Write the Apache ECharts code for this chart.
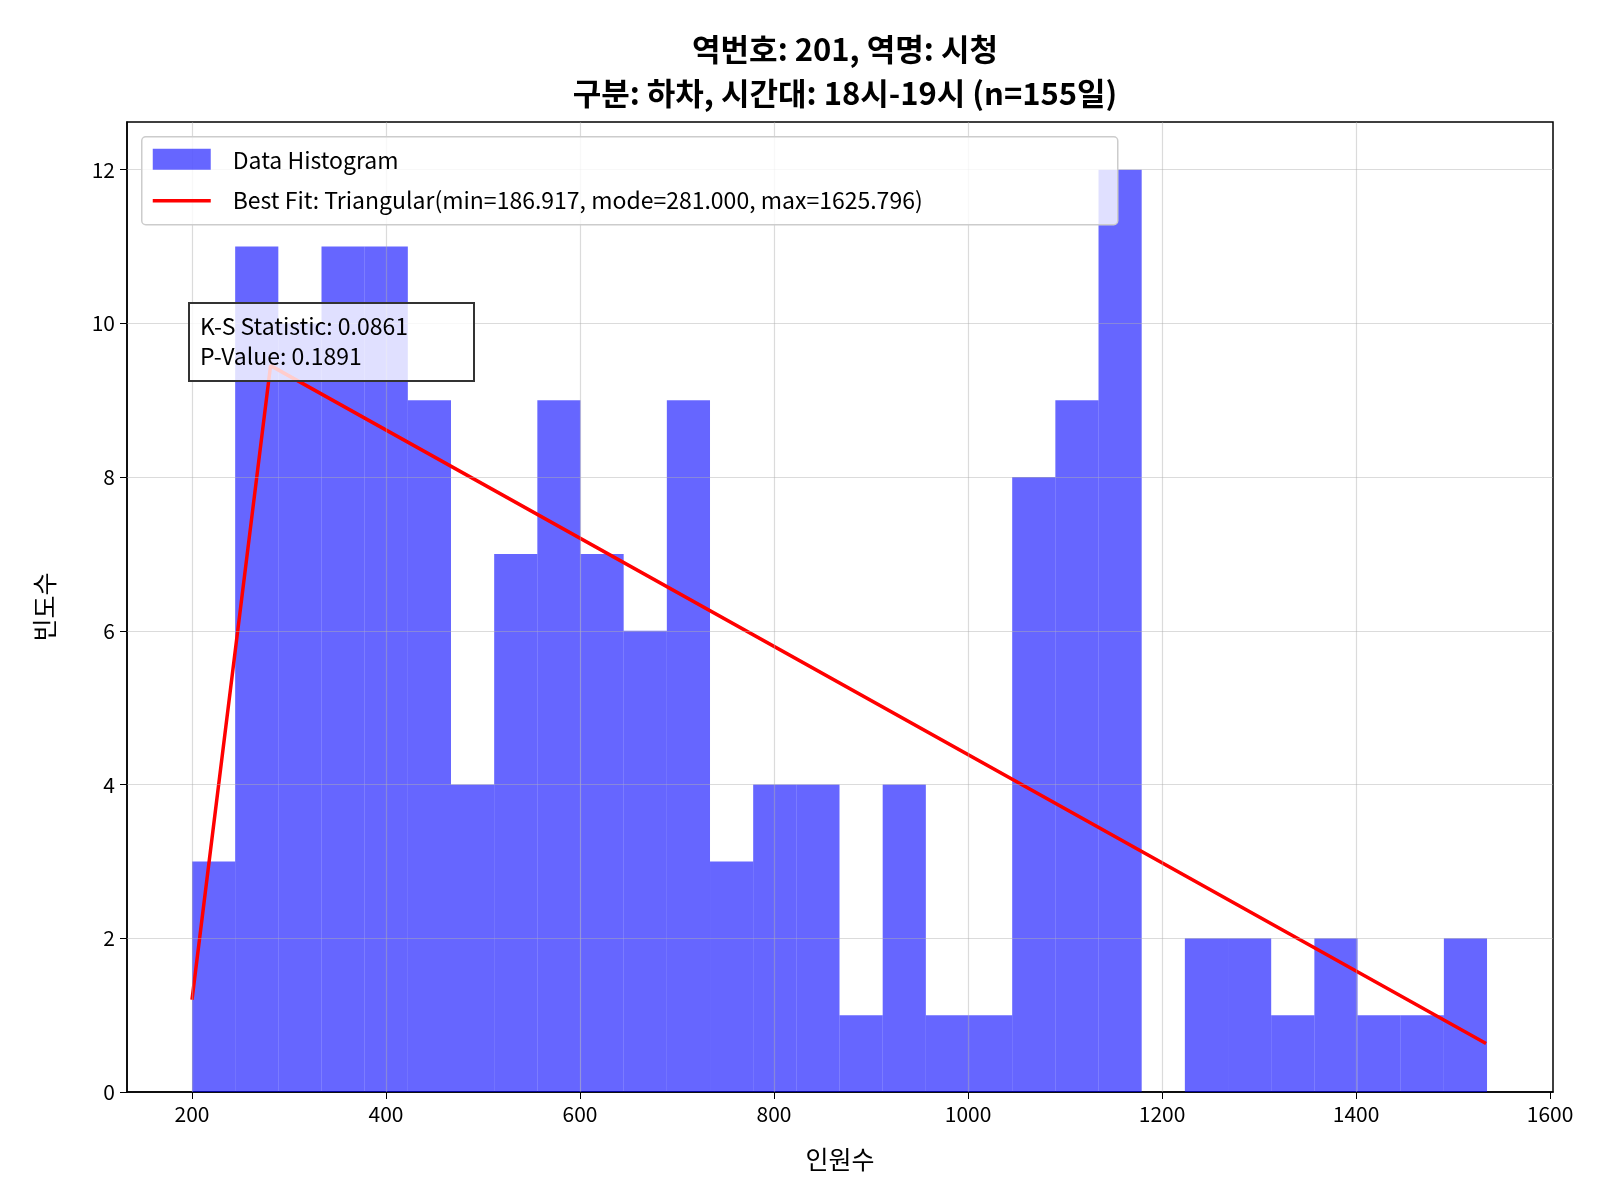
<!DOCTYPE html>
<html><head><meta charset="utf-8">
<script src="https://cdn.jsdelivr.net/npm/echarts@6/dist/echarts.min.js"></script>
<style>html,body{margin:0;padding:0;background:#fff}#c{width:1600px;height:1200px}</style>
</head><body><div id="c"></div>
<script>
const binStart = 200.0;
const binWidth = 44.5;
const counts = [3,11,10,11,11,9,4,7,9,7,6,9,3,4,4,1,4,1,1,8,9,12,0,2,2,1,2,1,1,2];
const fitLine = [[200,1.2],[281,9.45],[1534,0.63]];
const xTicks = [200,400,600,800,1000,1200,1400,1600];
const yTicks = [0,2,4,6,8,10,12];

const F = '"Noto Sans CJK KR", sans-serif';
const bars = counts.map((c,i)=>[binStart+i*binWidth, binStart+(i+1)*binWidth, c]);
const chart = echarts.init(document.getElementById('c'));
chart.setOption({
  animation:false,
  title:{text:'역번호: 201, 역명: 시청\n구분: 하차, 시간대: 18시-19시 (n=155일)',left:840,textAlign:'center',top:22,
    textStyle:{fontFamily:F,fontSize:31,fontWeight:'bold',color:'#000',lineHeight:44}},
  grid:{left:127,right:47,top:122,bottom:108,show:true,borderColor:'#000',borderWidth:1.5,backgroundColor:'transparent'},
  xAxis:{type:'value',min:133,max:1603,interval:200,name:'인원수',nameLocation:'middle',nameGap:55,
    nameTextStyle:{fontFamily:F,fontSize:25,color:'#000'},
    axisLine:{show:true,lineStyle:{color:'#000',width:1.5}},axisTick:{show:true,customValues:xTicks,length:7,lineStyle:{color:'#000'}},
    axisLabel:{customValues:xTicks,formatter:v=>String(v),fontFamily:F,fontSize:21,color:'#000',margin:12},
    splitLine:{show:false}},
  yAxis:{type:'value',min:0,max:12.62,interval:2,name:'빈도수',nameLocation:'middle',nameGap:70,
    nameTextStyle:{fontFamily:F,fontSize:25,color:'#000'},
    axisLine:{show:true,lineStyle:{color:'#000',width:1.5}},axisTick:{show:true,customValues:yTicks,length:7,lineStyle:{color:'#000'}},
    axisLabel:{customValues:yTicks,formatter:v=>String(v),fontFamily:F,fontSize:21,color:'#000',margin:12},
    splitLine:{show:false}},
  series:[
    {type:'custom',name:'Data Histogram',z:1,
     renderItem:function(p,api){const a=api.coord([api.value(0),api.value(2)]);const b=api.coord([api.value(1),0]);
       return {type:'rect',shape:{x:a[0],y:a[1],width:b[0]-a[0],height:b[1]-a[1]},style:{fill:'rgba(0,0,255,0.6)'}};},
     encode:{x:[0,1],y:2},data:bars},
    {type:'line',name:'grid',z:3,data:[],markLine:{silent:true,symbol:'none',label:{show:false},
      lineStyle:{color:'rgba(176,176,176,0.45)',type:'solid',width:1.2},
      data:xTicks.filter(v=>v<1600).map(v=>({xAxis:v})).concat(yTicks.filter(v=>v>0).map(v=>({yAxis:v})))}},
    {type:'line',name:'Best Fit',z:4,data:fitLine,showSymbol:false,symbol:'none',lineStyle:{color:'#ff0000',width:3.5},itemStyle:{color:'#ff0000'}}
  ],
  graphic:[
    {type:'group',left:141,top:136,z:100,zlevel:1,children:[
      {type:'rect',z:100,shape:{x:0,y:0,width:976,height:88,r:4},style:{fill:'rgba(255,255,255,0.8)',stroke:'#ccc',lineWidth:1.5}},
      {type:'rect',z:101,shape:{x:11,y:12,width:58,height:21},style:{fill:'rgba(0,0,255,0.6)'}},
      {type:'line',z:101,shape:{x1:11,y1:64,x2:69,y2:64},style:{stroke:'#ff0000',lineWidth:3.5}},
      {type:'text',z:101,x:91,y:24,style:{text:'Data Histogram',font:'23px '+F,fill:'#000',textVerticalAlign:'middle'}},
      {type:'text',z:101,x:91,y:64,style:{text:'Best Fit: Triangular(min=186.917, mode=281.000, max=1625.796)',font:'23px '+F,fill:'#000',textVerticalAlign:'middle'}}
    ]},
    {type:'group',left:188,top:302,z:100,zlevel:1,children:[
      {type:'rect',z:100,shape:{x:0,y:0,width:285,height:78},style:{fill:'rgba(255,255,255,0.8)',stroke:'#333',lineWidth:2}},
      {type:'text',z:101,x:11,y:8,style:{text:'K-S Statistic: 0.0861\nP-Value: 0.1891',font:'23px '+F,fill:'#000',lineHeight:30}}
    ]}
  ]
});
</script></body></html>
